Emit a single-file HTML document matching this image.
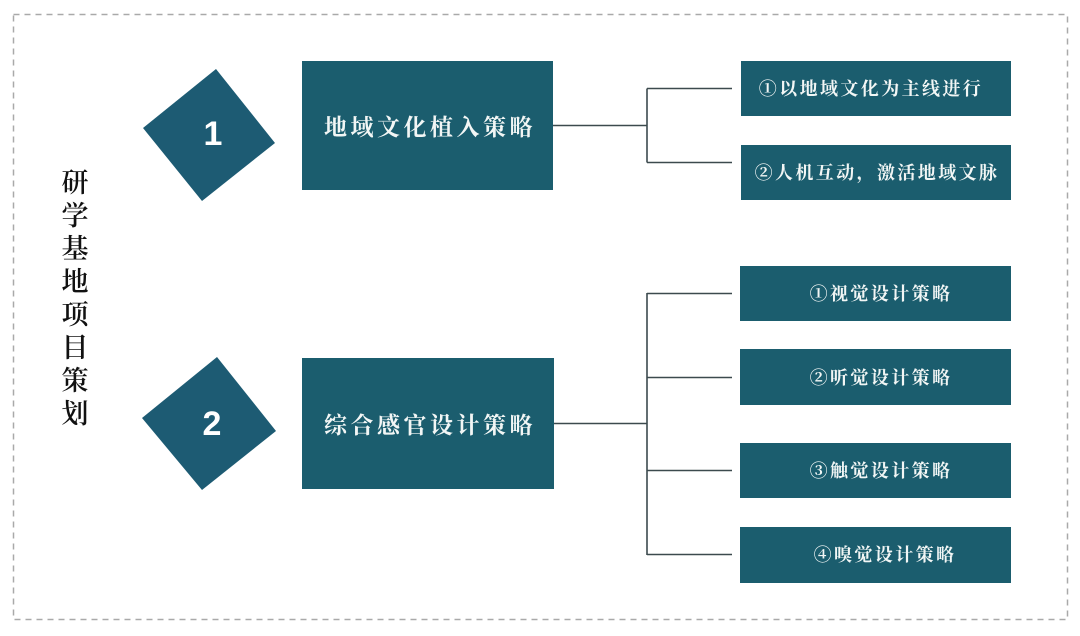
<!DOCTYPE html>
<html>
<head>
<meta charset="utf-8">
<style>
html,body{margin:0;padding:0;background:#fff;}
body{width:1080px;height:636px;overflow:hidden;}
svg{display:block;}
.t{font-family:"Noto Serif CJK SC","Liberation Serif",serif;fill:#f2f6f5;font-weight:bold;}
</style>
</head>
<body>
<svg width="1080" height="636" viewBox="0 0 1080 636" xmlns="http://www.w3.org/2000/svg">
  <rect x="0" y="0" width="1080" height="636" fill="#ffffff"/>
  <!-- dashed border -->
  <rect x="13.5" y="14.5" width="1054" height="605" fill="none" stroke="#a9a9a9" stroke-width="1.5" stroke-dasharray="6,5"/>

  <!-- vertical title -->
  <g font-family="Noto Serif CJK SC, Liberation Serif, serif" font-size="27" font-weight="600" fill="#111" text-anchor="middle">
    <text x="75" y="192">研</text>
    <text x="75" y="225">学</text>
    <text x="75" y="258">基</text>
    <text x="75" y="291">地</text>
    <text x="75" y="324">项</text>
    <text x="75" y="357">目</text>
    <text x="75" y="390">策</text>
    <text x="75" y="423">划</text>
  </g>

  <!-- diamonds -->
  <polygon points="216,69 275,143 202,201 143,128" fill="#1d5b73"/>
  <polygon points="217,357 276,431 202,490 142,418" fill="#1d5b73"/>
  <text x="213" y="145" font-family="Liberation Sans, sans-serif" font-weight="bold" font-size="34" fill="#fff" text-anchor="middle">1</text>
  <text x="212" y="435" font-family="Liberation Sans, sans-serif" font-weight="bold" font-size="34" fill="#fff" text-anchor="middle">2</text>

  <!-- main boxes -->
  <rect x="302" y="61" width="251" height="129" fill="#1b5d6e"/>
  <rect x="302" y="358" width="252" height="131" fill="#1b5d6e"/>
  <text class="t" x="430" y="135" font-size="23" letter-spacing="3.5" text-anchor="middle">地域文化植入策略</text>
  <text class="t" x="430" y="433" font-size="23" letter-spacing="3.5" text-anchor="middle">综合感官设计策略</text>

  <!-- connectors -->
  <g stroke="#3c4a4e" stroke-width="1.6" fill="none">
    <line x1="553" y1="125.5" x2="647" y2="125.5"/>
    <line x1="647" y1="88.5" x2="647" y2="162.5"/>
    <line x1="647" y1="88.5" x2="732" y2="88.5"/>
    <line x1="647" y1="162.5" x2="732" y2="162.5"/>

    <line x1="554" y1="423.5" x2="647" y2="423.5"/>
    <line x1="647" y1="293" x2="647" y2="555"/>
    <line x1="647" y1="293.5" x2="732" y2="293.5"/>
    <line x1="647" y1="377.5" x2="732" y2="377.5"/>
    <line x1="647" y1="470.5" x2="732" y2="470.5"/>
    <line x1="647" y1="554.5" x2="732" y2="554.5"/>
  </g>

  <!-- small boxes -->
  <rect x="741" y="61" width="270" height="55" fill="#1b5d6e"/>
  <rect x="741" y="145" width="270" height="55" fill="#1b5d6e"/>
  <rect x="740" y="266" width="271" height="55" fill="#1b5d6e"/>
  <rect x="740" y="349" width="271" height="56" fill="#1b5d6e"/>
  <rect x="740" y="443" width="271" height="55" fill="#1b5d6e"/>
  <rect x="740" y="527" width="271" height="56" fill="#1b5d6e"/>

  <g class="t" font-size="18" letter-spacing="2.4" text-anchor="middle">
    <text x="871" y="95">①以地域文化为主线进行</text>
    <text x="877" y="179">②人机互动，激活地域文脉</text>
    <text x="881" y="300">①视觉设计策略</text>
    <text x="881" y="384">②听觉设计策略</text>
    <text x="881" y="477">③触觉设计策略</text>
    <text x="885" y="561">④嗅觉设计策略</text>
  </g>
</svg>
</body>
</html>
